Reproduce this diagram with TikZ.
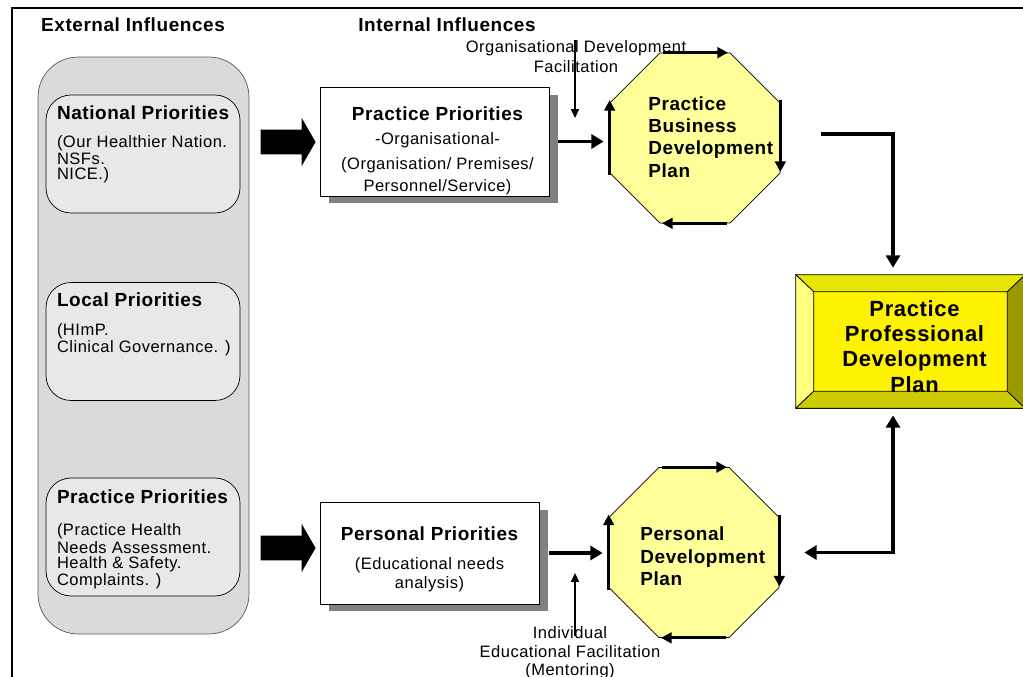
\documentclass[tikz,border=0pt]{standalone}
\usepackage{fontspec}
\setmainfont{Liberation Sans}[LetterSpace=3]
\usetikzlibrary{positioning,shapes.geometric,shapes.arrows,shadows,arrows.meta}
\definecolor{panelgray}{HTML}{DADADA}
\definecolor{boxgray}{HTML}{E8E8E8}
\definecolor{paleyellow}{HTML}{FFFF99}
\definecolor{bevtop}{HTML}{E6E600}
\definecolor{bevleft}{HTML}{FFFF80}
\definecolor{bevbot}{HTML}{CCCC00}
\definecolor{bevright}{HTML}{999900}
\tikzset{
  headfont/.style={font=\fontsize{10.8}{12.7}\selectfont\bfseries},
  smallfont/.style={font=\fontsize{9.4}{8.5}\selectfont},
  panel/.style={draw=black!65, fill=panelgray, rounded corners=0.8cm, minimum width=4.22cm, minimum height=11.54cm},
  prio/.style={draw, fill=boxgray, rounded corners=0.5cm, minimum width=3.88cm, minimum height=2.36cm},
  intbox/.style={draw, fill=white, drop shadow={shadow xshift=0.18cm, shadow yshift=-0.15cm, fill=black!50, opacity=1}},
  plan/.style={regular polygon, regular polygon sides=8, draw, fill=paleyellow, minimum size=3.68cm, inner sep=0},
  blockarr/.style={single arrow, fill=black, inner sep=0.24cm, single arrow head extend=0.24cm, single arrow tip angle=120, minimum height=1.1cm},
  flow/.style={line width=2.2pt, -{Triangle[length=7pt,width=8pt]}},
  edgearr/.style={line width=1.8pt, -{Triangle[length=6pt,width=6pt]}},
  helper/.style={line width=0.8pt, -{Triangle[length=5pt,width=4.5pt]}},
  bevel/.style={draw, line width=0.4pt}
}
\begin{document}
\begin{tikzpicture}[x=0.02cm, y=-0.02cm]
                \useasboundingbox (0,0) rectangle (1023,676);
                \clip (0,0) rectangle (1023,676);
                \draw[line width=1.6pt] (12,690) -- (12,8) -- (1040,8);
                \node[headfont] (exthead) at (133,25) {External Influences};
                \node[headfont] (inthead) at (447,25) {Internal Influences};
                \node[panel] (ext) at (143.5,345.5) {};
                \node[prio] (nat) at (143,154) {};
                \node[prio] (loc) at (143,341.5) {};
                \node[prio] (prac) at (143,537) {};
                \node[headfont, anchor=north west, inner sep=0] (natttl) at ([shift={(11,11)}]nat.north west) {National Priorities};
                \node[smallfont, align=left, anchor=north west, inner sep=0] (nattxt) at ([shift={(11,41)}]nat.north west) {(Our Healthier Nation.\\NSFs.\\NICE.)};
                \node[headfont, anchor=north west, inner sep=0] (locttl) at ([shift={(11,10)}]loc.north west) {Local Priorities};
                \node[smallfont, align=left, anchor=north west, inner sep=0] (loctxt) at ([shift={(11,41)}]loc.north west) {(HImP.\\Clinical Governance. )};
                \node[headfont, anchor=north west, inner sep=0] (practtl) at ([shift={(11,12)}]prac.north west) {Practice Priorities};
                \node[smallfont, align=left, anchor=north west, inner sep=0] (practxt) at ([shift={(11,46)}]prac.north west) {(Practice Health\\Needs Assessment.\\Health \& Safety.\\Complaints. )};
                \node[blockarr] (arrtop) at (284.5,142) {};
                \node[blockarr] (arrbot) at (284.5,548) {};
                \node[intbox, minimum width=4.58cm, minimum height=2.18cm] (pp) at (434.5,141.5) {};
                \node[align=center, anchor=north, inner sep=0, font=\fontsize{9.4}{12.5}\selectfont] (pptxt) at ([shift={(3,20)}]pp.north) {{\fontsize{10.8}{13}\selectfont\bfseries Practice Priorities}\\[1.1pt]-Organisational-\\[1.7pt](Organisation/ Premises/\\Personnel/Service)};
                \node[intbox, minimum width=4.38cm, minimum height=2.04cm] (pr) at (429.5,553) {};
                \node[align=center, anchor=north, inner sep=0, font=\fontsize{9.4}{10.8}\selectfont] (prtxt) at ([shift={(0,25)}]pr.north) {{\fontsize{10.8}{13}\selectfont\bfseries Personal Priorities}\\[5.6pt](Educational needs\\analysis)};
                \node[plan] (pbd) at (695,138) {};
                \node[plan] (pd) at (694,552.5) {};
                \node[headfont, align=left, anchor=west, inner sep=0] (pbdtxt) at ([shift={(-47,-1)}]pbd.center) {Practice\\Business\\Development\\Plan};
                \node[headfont, align=left, anchor=west, inner sep=0] (pdtxt) at ([shift={(-54,4)}]pd.center) {Personal\\Development\\Plan};
                \draw[edgearr] ([xshift=-0.64cm]pbd.north) -- ([xshift=0.66cm]pbd.north);
                \draw[edgearr] ([yshift=0.76cm]pbd.east) -- ([yshift=-0.68cm]pbd.east);
                \draw[edgearr] ([xshift=0.64cm]pbd.south) -- ([xshift=-0.66cm]pbd.south);
                \draw[edgearr] ([yshift=-0.74cm]pbd.west) -- ([yshift=0.76cm]pbd.west);
                \draw[edgearr] ([xshift=-0.64cm]pd.north) -- ([xshift=0.66cm]pd.north);
                \draw[edgearr] ([yshift=0.76cm]pd.east) -- ([yshift=-0.68cm]pd.east);
                \draw[edgearr] ([xshift=0.64cm]pd.south) -- ([xshift=-0.66cm]pd.south);
                \draw[edgearr] ([yshift=-0.74cm]pd.west) -- ([yshift=0.76cm]pd.west);
                \node[draw, fill=yellow, minimum width=4.58cm, minimum height=2.66cm] (ppdp) at (910.5,341.5) {};
                \filldraw[bevel, fill=bevtop] (ppdp.north west) -- (ppdp.north east) -- ([shift={(-18,17)}]ppdp.north east) -- ([shift={(18,17)}]ppdp.north west) -- cycle;
                \filldraw[bevel, fill=bevleft] (ppdp.north west) -- ([shift={(18,17)}]ppdp.north west) -- ([shift={(18,-17)}]ppdp.south west) -- (ppdp.south west) -- cycle;
                \filldraw[bevel, fill=bevbot] (ppdp.south west) -- ([shift={(18,-17)}]ppdp.south west) -- ([shift={(-18,-17)}]ppdp.south east) -- (ppdp.south east) -- cycle;
                \filldraw[bevel, fill=bevright] (ppdp.north east) -- ([shift={(-18,17)}]ppdp.north east) -- ([shift={(-18,-17)}]ppdp.south east) -- (ppdp.south east) -- cycle;
                \node[align=center, font=\fontsize{12.5}{14.3}\selectfont\bfseries] (ppdptxt) at ([shift={(4,5)}]ppdp.center) {Practice\\Professional\\Development\\Plan};
                \node[align=center, font=\fontsize{9.4}{11.3}\selectfont] (odlab) at (576,57) {Organisational Development\\Facilitation};
                \coordinate (odtop) at (575,40);
                \coordinate (odend) at (575,118);
                \draw[helper] (odtop) -- (odend);
                \node[align=center, font=\fontsize{9.4}{10.5}\selectfont] (mtlab) at (570,653) {Individual\\Educational Facilitation\\(Mentoring)};
                \coordinate (mtbase) at (575,636);
                \coordinate (mttip) at (575,573);
                \draw[helper] (mtbase) -- (mttip);
                \draw[flow, shorten >=0.12cm] ([xshift=0.18cm]pp.east) -- (pp.east -| pbd.west);
                \draw[flow, shorten >=0.12cm] ([xshift=0.2cm]pr.east) -- (pr.east -| pd.west);
                \coordinate (bdout) at (821,134);
                \draw[flow, shorten >=0.14cm] (bdout) -| ([xshift=-0.35cm]ppdp.north);
                \draw[flow, {Triangle[length=7pt,width=8pt]}-{Triangle[length=7pt,width=8pt]}, shorten <=0.14cm, shorten >=0.5cm] ([xshift=-0.35cm]ppdp.south) |- (pd.east);
\end{tikzpicture}
\end{document}
